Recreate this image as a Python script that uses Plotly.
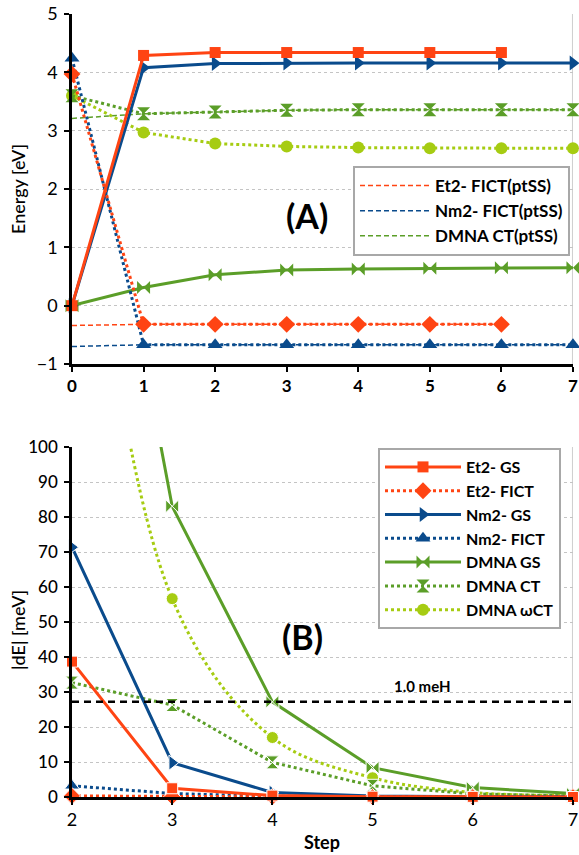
import plotly.graph_objects as go

# ---------------- data ----------------
steps_top = [0, 1, 2, 3, 4, 5, 6, 7]
et2_gs_top = [0.0, 4.29, 4.34, 4.34, 4.34, 4.34, 4.34]
et2_fict_top = [3.97, -0.32, -0.32, -0.32, -0.32, -0.32, -0.32]
nm2_gs_top = [0.0, 4.08, 4.15, 4.16, 4.16, 4.16, 4.16, 4.16]
nm2_fict_top = [4.24, -0.67, -0.67, -0.67, -0.67, -0.67, -0.67, -0.67]
dmna_gs_top = [0.0, 0.31, 0.53, 0.61, 0.63, 0.64, 0.65, 0.65]
dmna_ct_top = [3.60, 3.29, 3.32, 3.35, 3.36, 3.36, 3.36, 3.36]
dmna_wct_top = [3.60, 2.97, 2.78, 2.73, 2.71, 2.70, 2.70, 2.70]

# ptSS reference curves (first point = ptSS value)
et2_ptss = [-0.34, -0.32, -0.32, -0.32, -0.32, -0.32, -0.32]
nm2_ptss = [-0.70, -0.67, -0.67, -0.67, -0.67, -0.67, -0.67, -0.67]
dmna_ptss = [3.21, 3.29, 3.32, 3.35, 3.36, 3.36, 3.36, 3.36]

steps_bot = [2, 3, 4, 5, 6, 7]
et2_gs_bot = [38.7, 2.5, 0.4, 0.1, 0.05, 0.0]
et2_fict_bot = [0.3, 0.1, 0.05, 0.0, 0.0, 0.0]
nm2_gs_bot = [71.4, 9.8, 1.3, 0.3, 0.1, 0.05]
nm2_fict_bot = [3.2, 1.0, 0.2, 0.1, 0.0, 0.0]
dmna_gs_bot = [235.0, 83.1, 27.2, 8.4, 2.7, 1.0]
dmna_ct_bot = [32.7, 26.3, 9.9, 3.2, 0.9, 0.3]
dmna_wct_bot = [215.0, 56.7, 17.0, 5.5, 1.3, 0.4]

mEh_in_meV = 27.2114

# ---------------- styles ----------------
RED = "#ff4413"
BLUE = "#0a4b8c"
GREEN = "#5b9e28"
LIME = "#a6cc12"
FONT = "Lato"

series = [
    # name, top, bottom, color, dash, symbol, msize
    ("Et2- GS", et2_gs_top, et2_gs_bot, RED, "solid", "square", 11),
    ("Et2- FICT", et2_fict_top, et2_fict_bot, RED, "dot", "diamond", 13),
    ("Nm2- GS", nm2_gs_top, nm2_gs_bot, BLUE, "solid", "triangle-right", 13),
    ("Nm2- FICT", nm2_fict_top, nm2_fict_bot, BLUE, "dot", "triangle-up", 13),
    ("DMNA GS", dmna_gs_top, dmna_gs_bot, GREEN, "solid", "bowtie", 13),
    ("DMNA CT", dmna_ct_top, dmna_ct_bot, GREEN, "dot", "hourglass", 13),
    ("DMNA \u03c9CT", dmna_wct_top, dmna_wct_bot, LIME, "dot", "circle", 12),
]

fig = go.Figure()

# ptSS dashed lines (top legend)
for name, vals, col in [("Et2- FICT(ptSS)", et2_ptss, RED),
                        ("Nm2- FICT(ptSS)", nm2_ptss, BLUE),
                        ("DMNA CT(ptSS)", dmna_ptss, GREEN)]:
    fig.add_trace(go.Scatter(
        x=steps_top[:len(vals)], y=vals, mode="lines", name=name,
        line=dict(color=col, width=1.5, dash="5px,3px"),
        xaxis="x", yaxis="y", legend="legend", showlegend=True))

# main series, reversed so Et2 is drawn on top
for name, top, bot, col, dash, sym, ms in reversed(series):
    lw = 3
    fig.add_trace(go.Scatter(
        x=steps_top[:len(top)], y=top, mode="lines+markers", name=name,
        line=dict(color=col, width=lw, dash=dash),
        marker=dict(symbol=sym, size=ms, color=col, opacity=1),
        xaxis="x", yaxis="y", legend="legend2", showlegend=True,
        cliponaxis=False))
    sizes = [ms if v <= 100 else 0 for v in bot]
    fig.add_trace(go.Scatter(
        x=steps_bot, y=bot, mode="lines+markers", name=name,
        line=dict(color=col, width=lw, dash=dash,
                  shape="spline" if sym in ("circle",) else "linear"),
        marker=dict(symbol=sym, size=sizes, color=col, opacity=1),
        xaxis="x2", yaxis="y2", showlegend=False, cliponaxis=False))

# 1.0 meH line
fig.add_trace(go.Scatter(
    x=[steps_bot[0], steps_bot[-1]], y=[mEh_in_meV, mEh_in_meV], mode="lines",
    line=dict(color="black", width=2.5, dash="7px,5px"),
    xaxis="x2", yaxis="y2", showlegend=False, hoverinfo="skip"))

W, H = 579, 855
xd = [72 / W, 573 / W]
top_dom = [1 - 364 / H, 1 - 14 / H]
bot_dom = [1 - 797 / H, 1 - 447 / H]

axis_common = dict(showline=True, linecolor="black", linewidth=2.5,
                   ticks="outside", ticklen=5, tickwidth=2, tickcolor="black",
                   zeroline=False, ticklabeloverflow="allow", automargin=False)

fig.update_layout(
    width=W, height=H, margin=dict(l=0, r=0, t=0, b=0, pad=0),
    paper_bgcolor="white", plot_bgcolor="white",
    font=dict(family=FONT, color="black"),
    xaxis=dict(domain=xd, range=[0, 7.0005], anchor="y", tickmode="array",
               tickvals=steps_top, showgrid=False,
               tickfont=dict(size=17, family=FONT, weight="bold"),
               ticklabelstandoff=0, **axis_common),
    yaxis=dict(domain=top_dom, range=[-1, 5.0005], anchor="x", dtick=1,
               showgrid=True, gridcolor="#c4c4c4", griddash="dot", gridwidth=1,
               tickfont=dict(size=18, family=FONT),
               ticklabelstandoff=3, **axis_common),
    xaxis2=dict(domain=xd, range=[2, 7.0005], anchor="y2", tickmode="array",
                tickvals=steps_bot, showgrid=False,
                tickfont=dict(size=18, family=FONT),
                ticklabelstandoff=0, **axis_common),
    yaxis2=dict(domain=bot_dom, range=[0, 100.05], anchor="x2", dtick=10,
                showgrid=True, gridcolor="#c4c4c4", griddash="dot", gridwidth=1,
                tickfont=dict(size=17, family=FONT, weight=500),
                ticklabelstandoff=3, **axis_common),
    legend=dict(x=353 / W, y=1 - 166 / H, xanchor="left", yanchor="top",
                bgcolor="white", bordercolor="#a8a8a8", borderwidth=2,
                font=dict(size=17, family=FONT, weight="bold"),
                itemwidth=70, tracegroupgap=0),
    legend2=dict(x=378 / W, y=1 - 448 / H, xanchor="left", yanchor="top",
                 bgcolor="white", bordercolor="#a8a8a8", borderwidth=2,
                 font=dict(size=16, family=FONT, weight="bold"),
                 itemwidth=76, traceorder="reversed", tracegroupgap=0),
    shapes=[
        dict(type="line", xref="x", yref="y domain", x0=7, x1=7, y0=0, y1=1,
             line=dict(color="#d0d0d0", width=2), layer="below"),
        dict(type="line", xref="x2", yref="y2 domain", x0=7, x1=7, y0=0, y1=1,
             line=dict(color="#d0d0d0", width=2), layer="below"),
    ],
    annotations=[
        dict(text="(A)", x=3.28, y=1.55, xref="x", yref="y", showarrow=False,
             xanchor="center", yanchor="middle",
             font=dict(size=34, family=FONT, weight="bold")),
        dict(text="(B)", x=4.3, y=46, xref="x2", yref="y2", showarrow=False,
             xanchor="center", yanchor="middle",
             font=dict(size=34, family=FONT, weight="bold")),
        dict(text="1.0 meH", x=5.5, y=mEh_in_meV + 1.5, xref="x2", yref="y2",
             showarrow=False, xanchor="center", yanchor="bottom",
             font=dict(size=15, family=FONT, weight="bold")),
        dict(text="Energy [eV]", x=18 / W, y=1 - 189 / H, xref="paper",
             yref="paper", textangle=-90, showarrow=False,
             xanchor="center", yanchor="middle",
             font=dict(size=18, family=FONT, weight=500)),
        dict(text="|dE| [meV]", x=18 / W, y=1 - 630 / H, xref="paper",
             yref="paper", textangle=-90, showarrow=False,
             xanchor="center", yanchor="middle",
             font=dict(size=18, family=FONT, weight=500)),
        dict(text="Step", x=322 / W, y=1 - 842 / H, xref="paper", yref="paper",
             showarrow=False, xanchor="center", yanchor="middle",
             font=dict(size=18, family=FONT, weight="bold")),
    ],
)

fig.write_html("out.html",
               config={"displayModeBar": False},
               post_script="document.body.style.margin='0';"
                           "document.body.style.overflow='hidden';")
